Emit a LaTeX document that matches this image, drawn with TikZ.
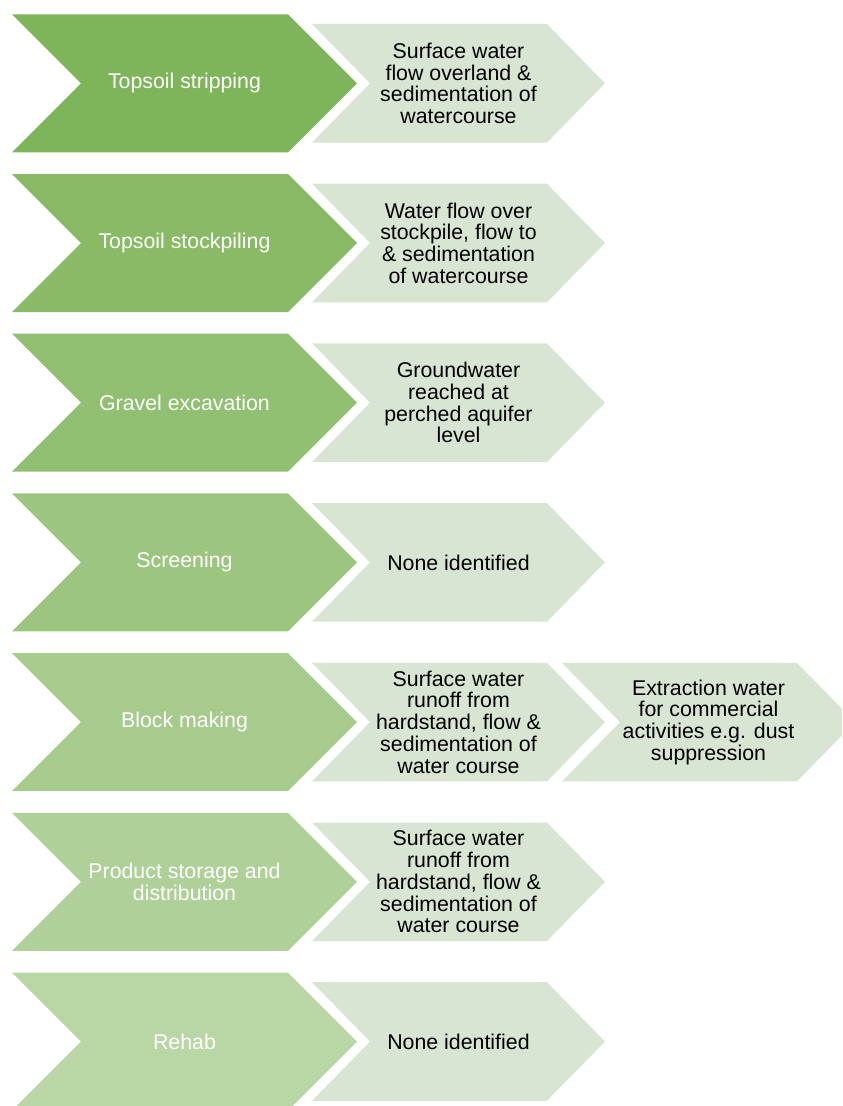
\documentclass[tikz,border=0pt]{standalone}
\usepackage{fontspec}
\setmainfont{Liberation Sans}
\definecolor{gA}{RGB}{127,181,90}
\definecolor{gB}{RGB}{137,187,103}
\definecolor{gC}{RGB}{146,192,115}
\definecolor{gD}{RGB}{156,198,128}
\definecolor{gE}{RGB}{166,203,140}
\definecolor{gF}{RGB}{175,209,153}
\definecolor{gG}{RGB}{185,214,165}
\definecolor{pale}{RGB}{216,229,210}
\newcommand\bigchev[2]{\fill[#2] (12,#1) -- (288,#1) -- (357,#1+69) -- (288,#1+138) -- (12,#1+138) -- (81,#1+69) -- cycle;}
\newcommand\smallchev[2]{\fill[pale] (#1,#2+9.7) -- (#1+235,#2+9.7) -- (#1+293,#2+69) -- (#1+235,#2+128.3) -- (#1,#2+128.3) -- (#1+58,#2+69) -- cycle;}
\begin{document}
\begin{tikzpicture}[x=0.75pt,y=-0.75pt,
  bigtxt/.style={text=white,align=center,inner sep=0pt,font=\fontsize{16}{16.3}\selectfont},
  smalltxt/.style={text=black,align=center,inner sep=0pt,font=\fontsize{16}{16.3}\selectfont}]
\useasboundingbox (0,0) rectangle (842,1106);
\clip (0,0) rectangle (842,1106);
% row shapes
\bigchev{14.3}{gA}   \smallchev{312}{14.3}
\bigchev{174}{gB}    \smallchev{312}{174}
\bigchev{333.7}{gC}  \smallchev{312}{333.7}
\bigchev{493.4}{gD}  \smallchev{312}{493.4}
\bigchev{653.1}{gE}  \smallchev{312}{653.1} \smallchev{562}{653.1}
\bigchev{812.8}{gF}  \smallchev{312}{812.8}
\bigchev{972.5}{gG}  \smallchev{312}{972.5}
% texts
\node[bigtxt] (t1) at (184.5,83.3) {Topsoil stripping};
\node[bigtxt] (t2) at (184.5,243) {Topsoil stockpiling};
\node[bigtxt] (t3) at (184.5,402.7) {Gravel excavation};
\node[bigtxt] (t4) at (184.5,562.4) {Screening};
\node[bigtxt] (t5) at (184.5,722.1) {Block making};
\node[bigtxt] (t6) at (184.5,881.8) {Product storage and\\distribution};
\node[bigtxt] (t7) at (184.5,1041.5) {Rehab};
\node[smalltxt] (s1) at (458.5,83.3) {Surface water\\flow overland \&\\sedimentation of\\watercourse};
\node[smalltxt] (s2) at (458.5,243) {Water flow over\\stockpile, flow to\\\& sedimentation\\of watercourse};
\node[smalltxt] (s3) at (458.5,402.7) {Groundwater\\reached at\\perched aquifer\\level};
\node[smalltxt] (s4) at (458.5,562.4) {None identified};
\node[smalltxt] (s5) at (458.5,722.1) {Surface water\\runoff from\\hardstand, flow \&\\sedimentation of\\water course};
\node[smalltxt] (x5) at (708.5,722.1) {Extraction water\\for commercial\\activities e.g. dust\\suppression};
\node[smalltxt] (s6) at (458.5,881.8) {Surface water\\runoff from\\hardstand, flow \&\\sedimentation of\\water course};
\node[smalltxt] (s7) at (458.5,1041.5) {None identified};
\end{tikzpicture}
\end{document}
